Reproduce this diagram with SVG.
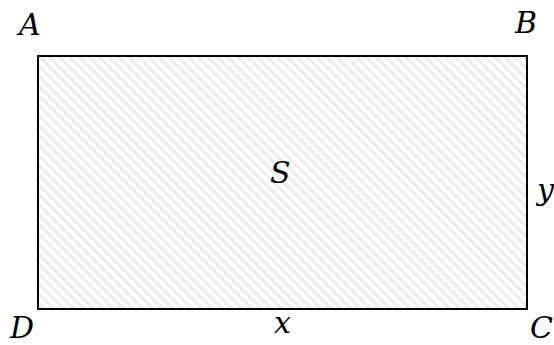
<svg xmlns="http://www.w3.org/2000/svg" width="554" height="345" viewBox="0 0 554 345">
  <defs>
    <pattern id="hatch" patternUnits="userSpaceOnUse" width="7" height="7" patternTransform="rotate(-45)">
      <rect x="0" y="0" width="7" height="7" fill="#ffffff"/>
      <rect x="0" y="0" width="3.5" height="7" fill="#ededed"/>
    </pattern>
  </defs>
  <style>
    .lbl { font-family: "DejaVu Serif", "Liberation Serif", serif; font-style: italic; font-size: 30px; fill: #000; }
  </style>
  <rect width="554" height="345" fill="#ffffff"/>
  <g id="region">
    <rect x="38" y="56" width="489" height="253" fill="url(#hatch)" stroke="#000" stroke-width="2"/>
  </g>
  <g id="labels">
    <text class="lbl" x="19" y="35">A</text>
    <text class="lbl" x="515" y="33">B</text>
    <text class="lbl" x="530" y="338">C</text>
    <text class="lbl" x="10" y="338">D</text>
    <text class="lbl" x="270" y="183">S</text>
    <text class="lbl" x="274" y="333">x</text>
    <text class="lbl" x="537" y="200">y</text>
  </g>
</svg>
